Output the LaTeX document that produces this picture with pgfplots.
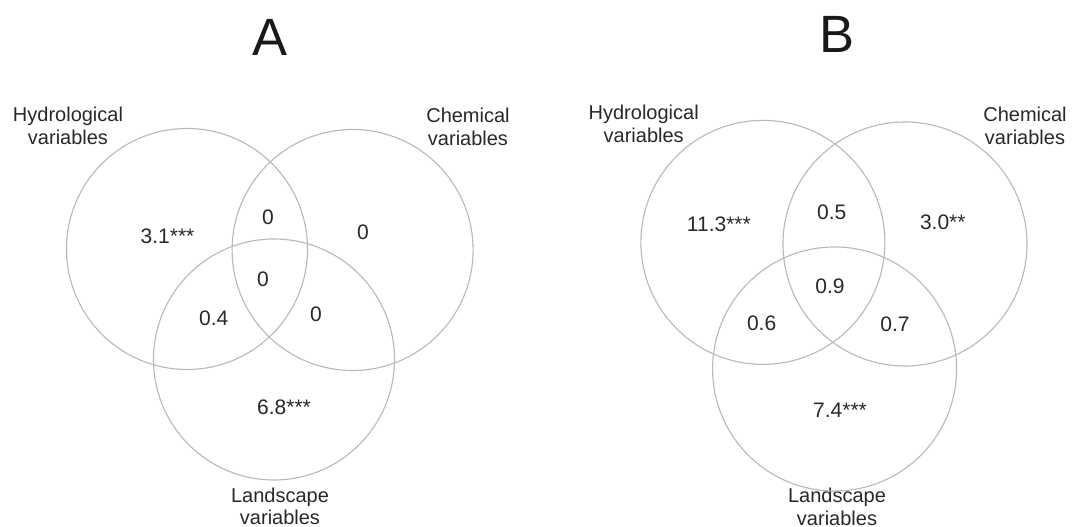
\documentclass[border=0pt]{standalone}
\usepackage{pgfplots}
\pgfplotsset{compat=1.18}
\usepackage{fontspec}
\setmainfont{Liberation Sans}
\definecolor{circgray}{RGB}{185,185,185}
\definecolor{txtgray}{RGB}{40,40,40}
\pgfplotsset{
  venn/.style={
    scale only axis, width=214.4pt, height=210.8pt,
    ymin=0, ymax=527, hide axis, clip=false, anchor=south west,
  },
  circ/.style={only marks, mark=o, mark options={draw=circgray, line width=0.45pt}},
  nums/.style={only marks, mark=none, nodes near coords, nodes near coords align={center},
    point meta=explicit symbolic,
    every node near coord/.append style={font=\fontsize{8.4}{10}\selectfont, text=txtgray, anchor=center, inner sep=0pt}},
}
\tikzset{lab/.style={align=center, inner sep=0pt, text=txtgray, font=\fontsize{8}{9}\selectfont}}
\begin{document}
\begin{tikzpicture}
\useasboundingbox (0,0) rectangle (428.8pt,210.8pt);
\clip (0,0) rectangle (428.8pt,210.8pt);
% Panel A
\begin{axis}[venn, at={(0pt,0pt)}, xmin=0, xmax=536]
\addplot[circ, mark size=48.2pt] coordinates {(187,278) (352.6,277) (274,167.5)};
\addplot[nums] coordinates {
 (167.5,291) [3.1***]
 (268,310) [0]
 (363,295) [0]
 (263,248) [0]
 (213.7,208.4) [0.4]
 (316,212.5) [0]
 (284,120) [6.8***]
};
\node[font=\fontsize{21}{25}\selectfont, text=black!90] at (axis cs:270,489.4) {A};
\node[lab] at (axis cs:68,401) {Hydrological\\variables};
\node[lab] at (axis cs:468,400) {Chemical\\variables};
\node[lab] at (axis cs:280,20.5) {Landscape\\variables};
\end{axis}
% Panel B
\begin{axis}[venn, at={(214.4pt,0pt)}, xmin=536, xmax=1072]
\addplot[circ, mark size=48.8pt] coordinates {(762.9,284.6) (905,283) (834.6,158)};
\addplot[nums] coordinates {
 (718.9,303) [11.3***]
 (831.7,315) [0.5]
 (942.8,305) [3.0**]
 (830,240.5) [0.9]
 (761.6,204) [0.6]
 (895,203) [0.7]
 (840,117) [7.4***]
};
\node[font=\fontsize{21}{25}\selectfont, text=black!90] at (axis cs:837,493) {B};
\node[lab] at (axis cs:643.7,403) {Hydrological\\variables};
\node[lab] at (axis cs:1025,401) {Chemical\\variables};
\node[lab] at (axis cs:837,20) {Landscape\\variables};
\end{axis}
\end{tikzpicture}
\end{document}
